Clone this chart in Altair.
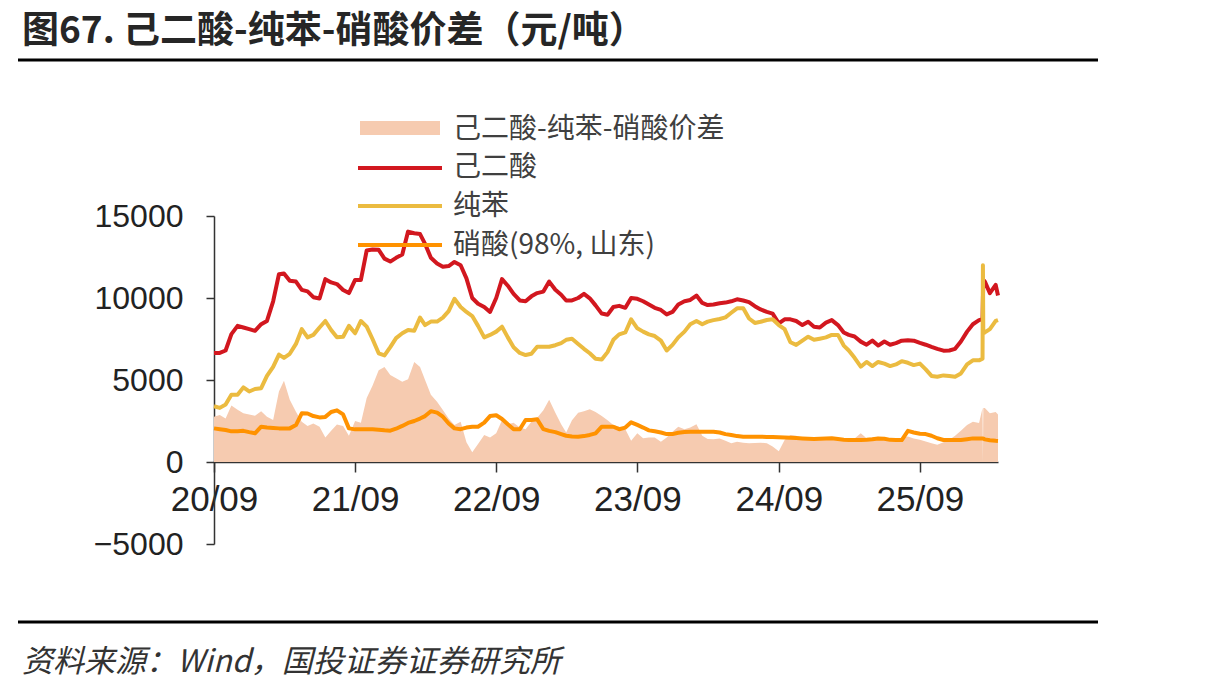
import altair as alt
import pandas as pd

# ---- x categories: semi-monthly dates + a few daily points around the Feb-2026 spike
months = [(2020 + (8 + i) // 12, (8 + i) % 12 + 1) for i in range(67)]
grid = [f"{y}-{m:02d}-{d:02d}" for y, m in months for d in (1, 16)] + ["2026-03-22"]
dates = grid[:131] + ["2026-02-10", "2026-02-11", "2026-02-12"] + grid[131:]

# 己二酸
adipic = [
    6650, 6650, 6800, 7800, 8300, 8200, 8100, 8000, 8400, 8600,
    9800, 11450, 11500, 11050, 11000, 10500, 10400, 10050, 9970, 11150,
    10950, 10850, 10490, 10300, 11100, 11100, 12900, 12960, 12940, 12400,
    12220, 12450, 12650, 14050, 13950, 13900, 13300, 12450, 12100, 11900,
    11950, 12200, 12000, 11200, 10000, 9650, 9450, 9150, 10000, 11150,
    10750, 10250, 9850, 9800, 10100, 10300, 10390, 11000, 10500, 10200,
    9850, 9850, 10000, 10250, 9980, 9550, 9050, 8980, 9450, 9520,
    9400, 10000, 9950, 9800, 9600, 9400, 9270, 9000, 9150, 9600,
    9800, 9880, 10150, 9700, 9570, 9600, 9680, 9720, 9800, 9920,
    9850, 9750, 9500, 9300, 9150, 9050, 8450, 8700, 8700, 8600,
    8350, 8550, 8250, 8200, 8500, 8650, 8350, 7900, 7750, 7650,
    7340, 7150, 7400, 7100, 7350, 7150, 7250, 7400, 7420, 7400,
    7260, 7150, 7020, 6900, 6790, 6800, 6900, 7350, 7950, 8400,
    8650,
    8700, 10000, 11100,
    11000, 10300, 10800, 10150,
]

# 纯苯
benzene = [
    3400, 3300, 3500, 4100, 4100, 4550, 4300, 4450, 4500, 5250,
    5800, 6550, 6350, 6600, 7200, 8100, 7600, 7750, 8200, 8600,
    8050, 7600, 7640, 8300, 7850, 8600, 8250, 7500, 6630, 6500,
    7000, 7550, 7850, 8050, 8000, 8800, 8350, 8560, 8560, 8800,
    9200, 9950, 9450, 9150, 8900, 8300, 7600, 7750, 7950, 8250,
    7600, 7000, 6650, 6520, 6600, 7030, 7030, 7030, 7120, 7250,
    7450, 7520, 7200, 6900, 6630, 6300, 6250, 6700, 7450, 7780,
    7900, 8700, 8150, 7950, 7780, 7680, 7400, 6800, 7140, 7600,
    7950, 8400, 8600, 8400, 8560, 8650, 8720, 8820, 9100, 9370,
    9370, 8750, 8480, 8550, 8660, 8700, 8350, 8100, 7300, 7140,
    7400, 7640, 7450, 7520, 7600, 7750, 7750, 7100, 6800, 6350,
    5810, 6100, 5850, 6100, 6000, 5850, 5950, 6150, 6050, 5910,
    6000, 5650, 5250, 5200, 5280, 5250, 5200, 5400, 5950, 6200,
    6200,
    6300, 12000, 7850,
    7900, 8100, 8600, 8650,
]

# 硝酸(98%, 山东)
nitric = [
    2050, 2000, 1950, 1870, 1880, 1900, 1820, 1750, 2150, 2100,
    2080, 2050, 2050, 2050, 2250, 2970, 2960, 2800, 2720, 2750,
    3050, 3150, 2900, 2050, 1990, 1990, 1990, 1990, 1970, 1930,
    1910, 2030, 2200, 2380, 2500, 2650, 2800, 3100, 3010, 2760,
    2350, 2050, 2000, 2100, 2150, 2150, 2400, 2800, 2850, 2620,
    2300, 2000, 2000, 2560, 2560, 2600, 2000, 1900, 1820, 1700,
    1600, 1560, 1540, 1580, 1650, 1750, 2150, 2150, 2150, 2000,
    2100, 2420, 2260, 2100, 1930, 1870, 1800, 1700, 1700, 1780,
    1830, 1850, 1850, 1850, 1850, 1850, 1800, 1700, 1650, 1580,
    1540, 1540, 1540, 1540, 1530, 1520, 1510, 1500, 1480, 1460,
    1440, 1420, 1400, 1420, 1440, 1450, 1400, 1360, 1340, 1340,
    1340, 1360, 1390, 1430, 1420, 1350, 1340, 1340, 1900, 1800,
    1720, 1700, 1600, 1450, 1340, 1340, 1340, 1340, 1390, 1440,
    1440,
    1440, 1430, 1420,
    1380, 1330, 1290, 1280,
]

# 己二酸-纯苯-硝酸价差
spread = [
    2760, 2870, 2660, 3450, 3180, 2970, 2900, 2820, 3100, 2760,
    2560, 4300, 4950, 3800, 3070, 2450, 2200, 2350, 2150, 1500,
    1900, 2280, 2200, 1600, 2500, 2400, 3900, 4650, 5600, 5800,
    5300, 5100, 4900, 5050, 6100, 5800, 5000, 4100, 3680, 3170,
    2650, 2260, 2450, 1200, 600, 1100, 1650, 1500, 1750, 2550,
    2300, 2400, 2100, 2000, 2450, 2700, 3150, 3800, 3000, 2300,
    1800, 2550, 3000, 3100, 3210, 3050, 2800, 2550, 2260, 2150,
    2000, 1300, 1750, 1450, 1500, 1500, 1240, 1500, 1850, 2150,
    2000, 2100, 2300, 1600, 1400, 1380, 1440, 1300, 1140, 1240,
    1180, 1140, 1160, 1180, 1140, 950, 650, 1340, 1650, 1600,
    1450, 1440, 1380, 1350, 1500, 1450, 1350, 1340, 1350, 1440,
    1750, 1450, 1500, 1540, 1400, 1340, 1340, 1500, 1550, 1440,
    1350, 1250, 1150, 1050, 1200, 1350, 1600, 1900, 2250, 2460,
    2380,
    3300, 0, 3300,
    3300, 2970, 3050, 2900,
]

legend_labels = ["己二酸-纯苯-硝酸价差", "己二酸", "纯苯", "硝酸(98%, 山东)"]
title_text = "图67. 己二酸-纯苯-硝酸价差（元/吨）"
source_text = "资料来源：Wind，国投证券证券研究所"
year_ticks = [2020, 2021, 2022, 2023, 2024, 2025]
y_ticks = [-5000, 0, 5000, 10000, 15000]

C_AREA = "#F6CBB0"
C_RED = "#D2171F"
C_GOLD = "#EBBB40"
C_ORANGE = "#FF9200"
AX = "#333333"

df = pd.DataFrame({"date": dates, "adipic": adipic, "benzene": benzene,
                   "nitric": nitric, "spread": spread})
one = pd.DataFrame({"k": [0]})

x_axis = alt.Axis(values=[alt.DateTime(year=y, month=9, date=1, utc=True) for y in year_ticks],
                  format="%y/%m", labelFont="Liberation Sans", labelFontSize=35,
                  labelColor="#222222", labelPadding=10, tickSize=10, tickWidth=1.5,
                  tickColor=AX, domainColor=AX, domainWidth=1.5, grid=False,
                  offset=-82, labelFlush=False, labelOverlap=False, title=None)
y_axis = alt.Axis(values=y_ticks, format="d", labelFont="Liberation Sans", labelFontSize=32,
                  labelColor="#222222", labelPadding=23, tickSize=8, tickWidth=1.5,
                  tickColor=AX, domainColor=AX, domainWidth=1.5, grid=False, title=None)
x_scale = alt.Scale(type="utc", domain=[alt.DateTime(year=2020, month=9, date=1, utc=True),
                                        alt.DateTime(year=2026, month=3, date=22, utc=True)])
y_scale = alt.Scale(domain=[-5000, 15000], nice=False, zero=False)


def X():
    return alt.X("date:T", scale=x_scale, axis=x_axis, title=None)


def Y(field):
    return alt.Y(f"{field}:Q", scale=y_scale, axis=y_axis, title=None)


base = alt.Chart(df)
area = base.mark_area(color=C_AREA, opacity=1).encode(x=X(), y=Y("spread"), y2=alt.datum(0))
red = base.mark_line(color=C_RED, strokeWidth=4, strokeJoin="round").encode(x=X(), y=Y("adipic"))
gold = base.mark_line(color=C_GOLD, strokeWidth=4, strokeJoin="round").encode(x=X(), y=Y("benzene"))
orange = base.mark_line(color=C_ORANGE, strokeWidth=4, strokeJoin="round").encode(x=X(), y=Y("nitric"))

# legend (drawn manually, positions relative to plot origin)
lc = alt.Chart(one)
leg = [
    lc.mark_rect(color=C_AREA).encode(x=alt.value(146), x2=alt.value(226), y=alt.value(-95), y2=alt.value(-81)),
    lc.mark_rule(color=C_RED, strokeWidth=4).encode(x=alt.value(144), x2=alt.value(228), y=alt.value(-48)),
    lc.mark_rule(color=C_GOLD, strokeWidth=4).encode(x=alt.value(144), x2=alt.value(228), y=alt.value(-10)),
    lc.mark_rule(color=C_ORANGE, strokeWidth=4).encode(x=alt.value(144), x2=alt.value(228), y=alt.value(29)),
]
for lab, yy in zip(legend_labels, [-86, -48, -9, 30]):
    leg.append(lc.mark_text(align="left", baseline="middle", font="Noto Sans CJK SC",
                            fontSize=28, color="#404040").encode(
        x=alt.value(239), y=alt.value(yy), text=alt.value(lab)))

deco = [
    lc.mark_text(align="left", baseline="middle", font="Noto Sans CJK SC", fontSize=37,
                 fontWeight="bold", color="#262626").encode(
        x=alt.value(-192), y=alt.value(-184), text=alt.value(title_text)),
    lc.mark_rule(color="#000000", strokeWidth=3).encode(x=alt.value(-196), x2=alt.value(884), y=alt.value(-156)),
    lc.mark_rule(color="#000000", strokeWidth=3).encode(x=alt.value(-196), x2=alt.value(884), y=alt.value(406)),
    lc.mark_text(align="left", baseline="middle", font="Noto Sans CJK SC", fontSize=31,
                 fontStyle="italic", color="#333333").encode(
        x=alt.value(-192), y=alt.value(447), text=alt.value(source_text)),
]

chart = alt.layer(area, red, gold, orange, *leg, *deco).properties(
    width=784, height=328,
    padding={"left": 214, "top": 216, "right": 215, "bottom": 153},
    autosize=alt.AutoSizeParams(type="none"),
    background="white",
).configure_view(strokeWidth=0)

chart.save("out.html", embed_options={"renderer": "svg", "actions": False})
